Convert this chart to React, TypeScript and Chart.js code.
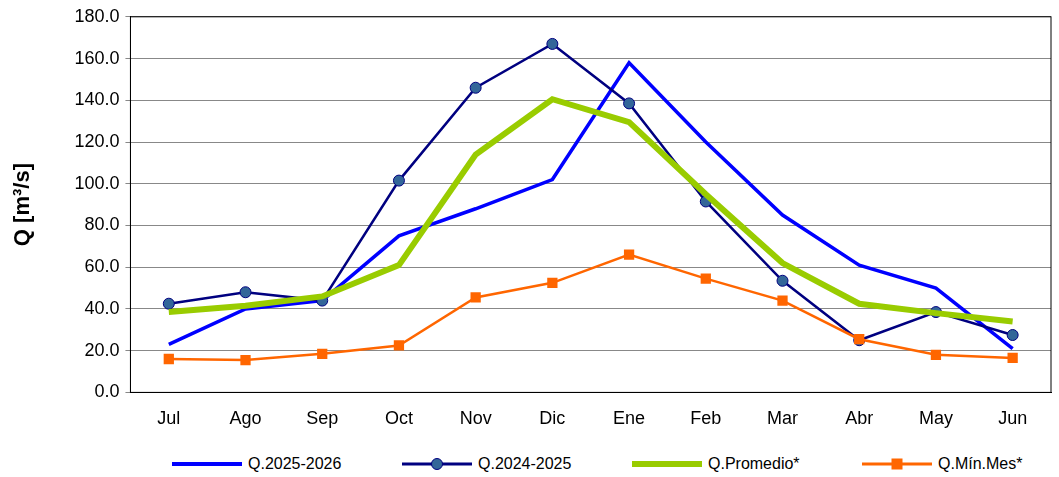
import React, { useEffect, useRef } from "react";
import { Chart, registerables } from "chart.js";
Chart.register(...registerables);

const categories = ["Jul","Ago","Sep","Oct","Nov","Dic","Ene","Feb","Mar","Abr","May","Jun"];
const q2526 = [23, 40, 44, 75, 88, 102, 158, 120, 85, 61, 50, 21];
const q2425 = [42.5, 48, 44, 101.5, 146, 167, 138.5, 91.5, 53.5, 25, 38.5, 27.5];
const qProm = [38.5, 41.5, 46, 61, 114, 140.5, 129.5, 95, 62, 42.5, 38, 34];
const qMin = [16, 15.5, 18.5, 22.5, 45.5, 52.5, 66, 54.5, 44, 25.5, 18, 16.5];

const FONT = "'Liberation Sans', Arial, sans-serif";

const legendItems = [
  { label: "Q.2025-2026", color: "#0000FF", width: 4, marker: null as null | string },
  { label: "Q.2024-2025", color: "#000080", width: 3, marker: "circle" },
  { label: "Q.Promedio*", color: "#99CC00", width: 6, marker: null },
  { label: "Q.Mín.Mes*", color: "#FF6600", width: 3, marker: "square" },
];

export default function App() {
  const ref = useRef<HTMLCanvasElement>(null);
  useEffect(() => {
    const border = {
      id: "border",
      afterDraw(c: any) {
        const { ctx, chartArea: a } = c;
        ctx.save();
        ctx.strokeStyle = "#000";
        ctx.lineWidth = 1;
        ctx.strokeRect(a.left, a.top, a.right - a.left, a.bottom - a.top);
        ctx.restore();
      },
    };
    const chart = new Chart(ref.current!, {
      type: "line",
      data: {
        labels: categories,
        datasets: [
          { label: "Q.Mín.Mes*", data: qMin, borderColor: "#FF6600", backgroundColor: "#FF6600", borderWidth: 2.5, pointStyle: "rect", pointRadius: 5.5, tension: 0 },
          { label: "Q.Promedio*", data: qProm, borderColor: "#99CC00", borderWidth: 6, pointRadius: 0, tension: 0 },
          { label: "Q.2024-2025", data: q2425, borderColor: "#000080", backgroundColor: "#336699", pointBorderColor: "#000080", pointBorderWidth: 1, borderWidth: 2.5, pointRadius: 5.5, tension: 0 },
          { label: "Q.2025-2026", data: q2526, borderColor: "#0000FF", borderWidth: 3.5, pointRadius: 0, tension: 0 },
        ],
      },
      options: {
        animation: false,
        responsive: false,
        layout: { padding: { top: 9, right: 4, left: 6 } },
        plugins: { legend: { display: false }, tooltip: { enabled: false } },
        scales: {
          x: {
            offset: true,
            grid: { display: false },
            border: { color: "#000" },
            ticks: { color: "#000", font: { family: FONT, size: 18 }, padding: 8 },
          },
          y: {
            min: 0, max: 180,
            ticks: { stepSize: 20, color: "#000", font: { family: FONT, size: 18 }, callback: (v: any) => Number(v).toFixed(1), padding: 6 },
            grid: { color: "#888", drawTicks: true, tickLength: 5 },
            border: { color: "#000" },
            title: { display: true, text: "Q [m³/s]", color: "#000", font: { family: FONT, size: 22, weight: "bold" }, padding: { bottom: 32 } },
          },
        },
      },
      plugins: [border],
    });
    return () => chart.destroy();
  }, []);
  return (
    <div style={{ position: "fixed", left: 0, top: 0, width: 1059, height: 477, background: "#fff" }}>
      <canvas ref={ref} width={1059} height={438} style={{ display: "block" }} />
      <div style={{ position: "absolute", top: 452, left: 0, width: 1059, fontFamily: FONT, fontSize: 16 }}>
        {legendItems.map((it, i) => (
          <div key={i} style={{ position: "absolute", left: 172 + i * 230, top: 0, display: "flex", alignItems: "center" }}>
            <svg width={70} height={24} style={{ marginRight: 6 }}>
              <line x1={0} y1={12} x2={70} y2={12} stroke={it.color} strokeWidth={it.width} />
              {it.marker === "circle" && <circle cx={35} cy={12} r={5.5} fill="#336699" stroke="#000080" />}
              {it.marker === "square" && <rect x={29.5} y={6.5} width={11} height={11} fill="#FF6600" />}
            </svg>
            <span>{it.label}</span>
          </div>
        ))}
      </div>
    </div>
  );
}
